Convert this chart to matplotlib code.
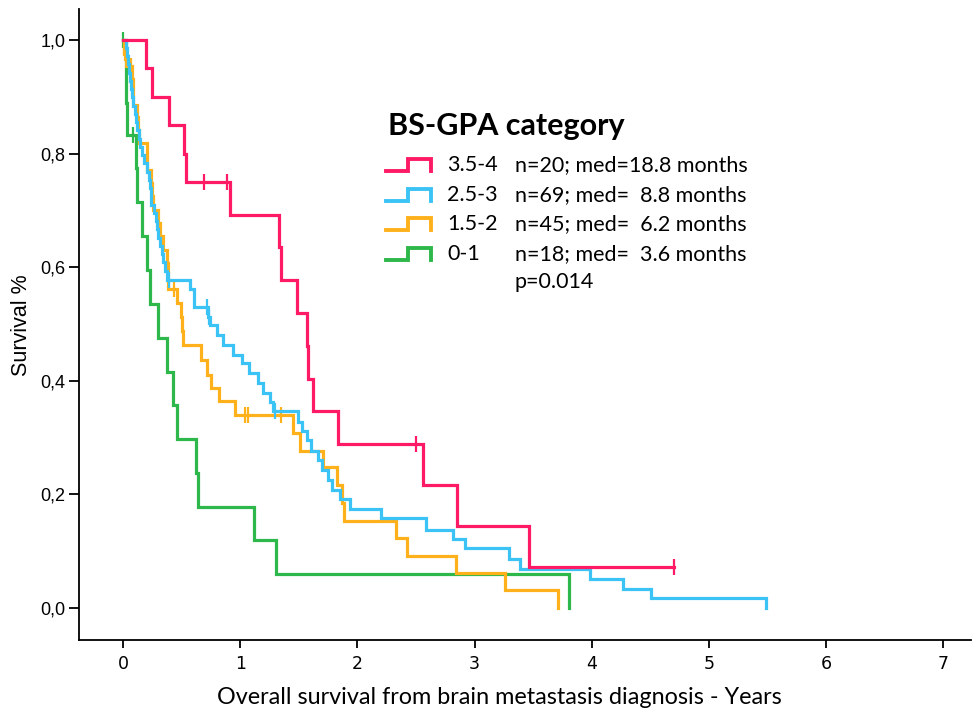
import numpy as np
import matplotlib
matplotlib.use("Agg")
import matplotlib.pyplot as plt
from matplotlib.lines import Line2D

# ---- data (years, survival after each drop) ----
groups = ["3.5-4", "2.5-3", "1.5-2", "0-1"]
stats = ["n=20; med=18.8 months", "n=69; med=  8.8 months",
         "n=45; med=  6.2 months", "n=18; med=  3.6 months"]
pval = "p=0.014"
colors = ["#ff1a66", "#3cc3f5", "#ffb11b", "#2eb84b"]

red_t = [0.0, 0.191, 0.248, 0.390, 0.521, 0.533, 0.911, 1.332, 1.345, 1.481,
         1.571, 1.580, 1.623, 1.836, 2.557, 2.852, 3.467, 4.705]
red_s = [1.0, 0.950, 0.900, 0.850, 0.800, 0.750, 0.692, 0.635, 0.577, 0.519,
         0.461, 0.404, 0.346, 0.288, 0.216, 0.144, 0.072, 0.072]
red_ct = [0.692, 0.883, 2.497, 4.705]
red_cs = [0.750, 0.750, 0.288, 0.072]

blue_t = [0.0, 0.02, 0.03, 0.04, 0.05, 0.06, 0.065, 0.07, 0.08, 0.10, 0.11,
          0.12, 0.13, 0.14, 0.16, 0.18, 0.20, 0.22, 0.23, 0.235, 0.24, 0.26,
          0.28, 0.29, 0.30, 0.31, 0.33, 0.34, 0.36, 0.375,
          0.57, 0.60, 0.72, 0.74, 0.80, 0.85, 0.94, 1.01, 1.075, 1.153,
          1.196, 1.253, 1.28, 1.494, 1.523, 1.566, 1.605, 1.665, 1.695,
          1.75, 1.785, 1.851, 1.936, 2.198, 2.585, 2.818, 2.918, 3.296,
          3.387, 3.985, 4.265, 4.506, 5.486]
blue_s = [1.0, 0.986, 0.971, 0.957, 0.942, 0.928, 0.913, 0.899, 0.884, 0.870,
          0.855, 0.841, 0.826, 0.812, 0.797, 0.783, 0.768, 0.754, 0.739,
          0.725, 0.710, 0.696, 0.681, 0.667, 0.652, 0.638, 0.623, 0.609,
          0.594, 0.578,
          0.561, 0.530, 0.513, 0.498, 0.480, 0.463, 0.445, 0.431, 0.413,
          0.396, 0.378, 0.363, 0.346, 0.328, 0.311, 0.296, 0.277, 0.261,
          0.243, 0.225, 0.208, 0.192, 0.174, 0.158, 0.137, 0.121, 0.105,
          0.086, 0.068, 0.051, 0.034, 0.017, 0.0]
blue_ct = [0.39, 0.712, 0.735, 1.295]
blue_cs = [0.578, 0.530, 0.513, 0.346]

orange_t = [0.0, 0.01, 0.02, 0.075, 0.08, 0.085, 0.12, 0.125, 0.13, 0.20,
            0.205, 0.24, 0.245, 0.25, 0.30, 0.31, 0.34, 0.37, 0.38, 0.385,
            0.455, 0.49, 0.50, 0.51, 0.662, 0.712, 0.745, 0.817, 0.953,
            1.452, 1.51, 1.708, 1.822, 1.865, 1.888, 2.329, 2.42, 2.839,
            3.26, 3.71]
orange_s = [1.0, 0.978, 0.955, 0.932, 0.909, 0.886, 0.864, 0.841, 0.818,
            0.795, 0.771, 0.748, 0.725, 0.701, 0.678, 0.655, 0.631, 0.608,
            0.585, 0.562, 0.537, 0.513, 0.488, 0.463, 0.437, 0.410, 0.387,
            0.364, 0.339, 0.308, 0.277, 0.248, 0.217, 0.185, 0.154, 0.123,
            0.092, 0.061, 0.031, 0.0]
orange_ct = [0.005, 0.012, 0.063, 0.43, 1.039, 1.067, 1.347]
orange_cs = [0.986, 0.978, 0.955, 0.562, 0.339, 0.339, 0.339]

green_t = [0.0, 0.02, 0.025, 0.03, 0.108, 0.114, 0.162, 0.20, 0.228, 0.299,
           0.373, 0.427, 0.456, 0.618, 0.64, 1.119, 1.304, 3.806]
green_s = [1.0, 0.944, 0.889, 0.833, 0.774, 0.714, 0.655, 0.595, 0.536,
           0.476, 0.416, 0.357, 0.297, 0.238, 0.178, 0.119, 0.0595, 0.0]
green_ct = [0.0, 0.085]
green_cs = [1.0, 0.833]

xticks = [0, 1, 2, 3, 4, 5, 6, 7]
yticks = [0.0, 0.2, 0.4, 0.6, 0.8, 1.0]
ylabels = ["0,0", "0,2", "0,4", "0,6", "0,8", "1,0"]

W, H = 973, 713
fig = plt.figure(figsize=(W / 100, H / 100), dpi=100)
ax = fig.add_axes([78.7 / W, 1 - 640 / H, (971 - 78.7) / W, (640 - 9) / H])

series = [(red_t, red_s, red_ct, red_cs), (blue_t, blue_s, blue_ct, blue_cs),
          (orange_t, orange_s, orange_ct, orange_cs),
          (green_t, green_s, green_ct, green_cs)]
# draw order: green at back, red on top
for i in [3, 2, 1, 0]:
    t, s, ct, cs = series[i]
    ax.step(t, s, where="post", color=colors[i], lw=2.3, solid_joinstyle="miter")
    ax.plot(ct, cs, ls="none", marker="|", ms=11, mew=1.6, color=colors[i])

ax.set_xlim(-0.381, 7.24)
ax.set_ylim(-0.0563, 1.0546)
ax.set_xticks(xticks)
ax.set_xticklabels([str(v) for v in xticks], fontsize=12.5, family="DejaVu Sans")
ax.set_yticks(yticks)
ax.set_yticklabels(ylabels, fontsize=13, family="Liberation Sans")
ax.tick_params(axis="x", length=6, width=1.3, pad=5)
ax.tick_params(axis="y", length=7.5, width=1.3, pad=2)
for side in ["top", "right"]:
    ax.spines[side].set_visible(False)
for side in ["left", "bottom"]:
    ax.spines[side].set_linewidth(1.3)


def fx(px):
    return px / W


def fy(py):
    return 1 - py / H


fig.text(fx(499), fy(698), "Overall survival from brain metastasis diagnosis - Years",
         fontsize=16.8, family="Lato", ha="center", va="center")
fig.text(fx(22), fy(325), "Survival %", fontsize=15.5, family="Liberation Sans",
         rotation=90, ha="center", va="center")

# legend drawn by hand
fig.text(fx(388), fy(135), "BS-GPA category", fontsize=22, family="Lato",
         fontweight="bold", va="baseline", ha="left")
rows = [165, 195, 224, 254]
for i, yc in enumerate(rows):
    xs = [fx(386), fx(408), fx(408), fx(431), fx(431)]
    ys = [fy(yc + 6), fy(yc + 6), fy(yc - 6), fy(yc - 6), fy(yc + 6)]
    fig.add_artist(Line2D(xs, ys, color=colors[i], lw=2.8,
                          solid_joinstyle="miter"))
    fig.text(fx(447), fy(yc), groups[i], fontsize=15.5, family="Lato",
             va="center", ha="left")
    fig.text(fx(515), fy(yc), stats[i], fontsize=15.5, family="Lato",
             va="center", ha="left")
fig.text(fx(515), fy(282), pval, fontsize=15.5, family="Lato",
         va="center", ha="left")

fig.savefig("out.png", dpi=100)
